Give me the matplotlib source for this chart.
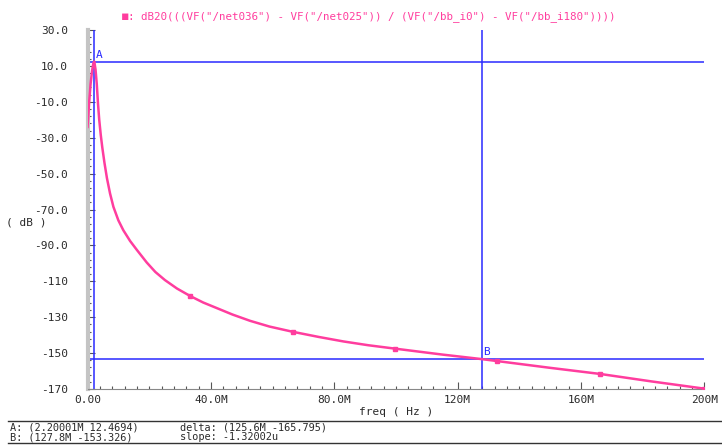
import matplotlib
matplotlib.use('Agg')
import matplotlib.pyplot as pl
import numpy as np

# trace (freq in MHz, magnitude in dB)
freq_mhz = [0.0, 0.5, 1.0, 1.5, 1.9, 2.2, 2.6, 3.0, 3.4, 3.8, 4.3, 4.8, 5.5, 6.3,
            7.3, 8.4, 10.0, 11.6, 13.8, 16.0, 19.2, 22.0, 25.1, 29.0, 33.3, 37.5,
            41.9, 47.0, 52.7, 59.0, 66.5, 75.0, 83.0, 91.0, 99.7, 115.0, 127.8,
            132.7, 150.0, 166.2, 183.0, 200.0]
mag_db = [-24.0, -11.0, 0.0, 7.5, 11.5, 12.47, 8.0, 0.0, -11.0, -20.0, -28.5, -35.5,
          -44.0, -52.5, -61.0, -68.5, -76.0, -81.5, -87.5, -92.5, -99.5, -104.8,
          -109.3, -114.0, -118.2, -121.8, -124.9, -128.5, -132.0, -135.2, -138.1,
          -141.0, -143.5, -145.6, -147.5, -150.8, -153.33, -154.4, -158.2, -161.6,
          -165.8, -169.8]
marker_mhz = [33.3, 66.5, 99.7, 132.7, 166.2, 200.0]
marker_db = [-118.2, -138.1, -147.5, -154.4, -161.6, -169.8]

cursor_a = (2.20001, 12.4694)
cursor_b = (127.8, -153.326)

xticks = [0, 40, 80, 120, 160, 200]
xticklabels = ['0.00', '40.0M', '80.0M', '120M', '160M', '200M']
yticks = [30, 10, -10, -30, -50, -70, -90, -110, -130, -150, -170]
yticklabels = ['30.0', '10.0', '-10.0', '-30.0', '-50.0', '-70.0', '-90.0',
               '-110', '-130', '-150', '-170']

title = ': dB20(((VF("/net036") - VF("/net025")) / (VF("/bb_i0") - VF("/bb_i180"))))'

pink = '#ff3d9e'
blue = '#2a2aff'
mono = 'DejaVu Sans Mono'
txt = '#2a2a2a'

fig = pl.figure(figsize=(7.22, 4.45), dpi=100)
ax = fig.add_axes([0.1212, 0.1258, 0.8544, 0.8067])

ax.plot(freq_mhz, mag_db, color=pink, lw=1.8, zorder=3)
ax.plot(marker_mhz, marker_db, ls='none', marker='s', ms=3.5, color=pink, zorder=3)

ax.axvline(cursor_a[0], color=blue, lw=1.1, zorder=2)
ax.axhline(cursor_a[1], color=blue, lw=1.1, zorder=2)
ax.axvline(cursor_b[0], color=blue, lw=1.1, zorder=2)
ax.axhline(cursor_b[1], color=blue, lw=1.1, zorder=2)
ax.text(cursor_a[0] + 0.6, cursor_a[1] + 1.0, 'A', color=blue, fontsize=8,
        family=mono, va='bottom', ha='left')
ax.text(cursor_b[0] + 0.4, cursor_b[1] + 1.0, 'B', color=blue, fontsize=8,
        family=mono, va='bottom', ha='left')

ax.set_xlim(0, 200)
ax.set_ylim(-170, 30)
ax.set_xticks(xticks)
ax.set_xticklabels(xticklabels, family=mono, fontsize=8, color=txt)
ax.set_yticks(yticks)
ax.set_yticklabels(yticklabels, family=mono, fontsize=8, color=txt)
ax.set_xticks(np.arange(0, 201, 4), minor=True)
ax.set_yticks(np.arange(-170, 31, 4), minor=True)
ax.tick_params(which='both', direction='in', color='#555555', width=0.8)
ax.tick_params(which='major', length=5, pad=4)
ax.tick_params(which='minor', length=2.5)
ax.tick_params(axis='y', pad=14)

for s in ['top', 'right']:
    ax.spines[s].set_visible(False)
ax.spines['left'].set_color('#c4c4c4')
ax.spines['left'].set_linewidth(3)
ax.spines['bottom'].set_color('#888888')
ax.spines['bottom'].set_linewidth(0.8)

ax.set_xlabel('freq ( Hz )', family=mono, fontsize=8, color=txt, labelpad=2)
fig.text(0.036, 0.5, '( dB )', family=mono, fontsize=8, color=txt,
         ha='center', va='center')

fig.text(0.167, 0.962, '\u25aa', color=pink, fontsize=9, ha='left', va='center')
fig.text(0.177, 0.962, title, color=pink, family=mono, fontsize=7.8,
         ha='left', va='center')

# cursor readout strip
fig.add_artist(pl.Line2D([0.011, 1.0], [1 - 420.7 / 445, 1 - 420.7 / 445],
                         color='#333333', lw=1))
fig.add_artist(pl.Line2D([0.011, 1.0], [1 - 442.5 / 445, 1 - 442.5 / 445],
                         color='#333333', lw=1))
fig.text(0.014, 1 - 427.5 / 445, 'A: (2.20001M 12.4694)', family=mono, fontsize=7.4,
         color=txt, va='center')
fig.text(0.014, 1 - 437 / 445, 'B: (127.8M -153.326)', family=mono, fontsize=7.4,
         color=txt, va='center')
fig.text(0.249, 1 - 427.5 / 445, 'delta: (125.6M -165.795)', family=mono, fontsize=7.4,
         color=txt, va='center')
fig.text(0.249, 1 - 437 / 445, 'slope: -1.32002u', family=mono, fontsize=7.4,
         color=txt, va='center')

fig.savefig('out.png', dpi=100)
pl.close('all')
